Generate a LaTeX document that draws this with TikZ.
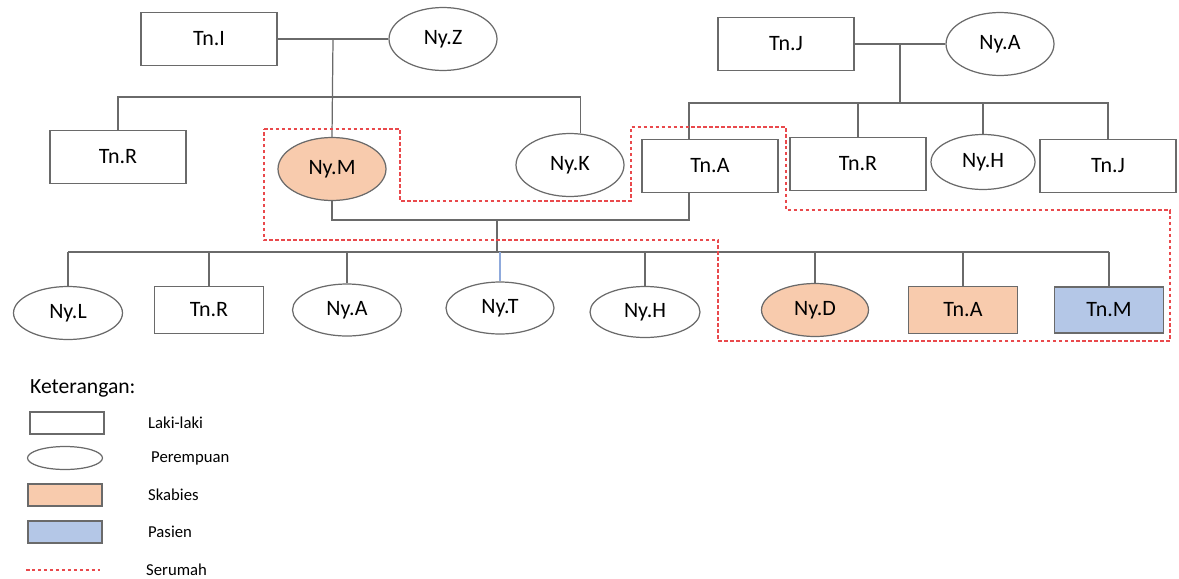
\documentclass[tikz,border=0pt]{standalone}
\usepackage{fontspec}
\setmainfont{Carlito}
\usetikzlibrary{positioning,calc,shapes.geometric}
\definecolor{skabies}{HTML}{F8CBAD}
\definecolor{pasien}{HTML}{B4C7E7}
\definecolor{garis}{HTML}{6A6A6A}
\definecolor{serumah}{HTML}{E9494C}
\definecolor{garisbiru}{HTML}{8FAADC}

\tikzset{
  laki/.style={rectangle, draw=garis, line width=0.7pt, fill=white, inner sep=0pt,
    minimum width=2.72cm, minimum height=1.06cm, font=\fontsize{12.5}{15}\selectfont},
  perempuan/.style={ellipse, draw=garis, line width=0.7pt, fill=white, inner sep=0pt,
    minimum width=2.16cm, minimum height=1.26cm, font=\fontsize{12.5}{15}\selectfont},
  link/.style={draw=garis, line width=0.7pt},
  rumah/.style={draw=serumah, line width=0.6pt, dash pattern=on 2pt off 1.4pt},
  ket/.style={anchor=west, font=\fontsize{9.5}{11}\selectfont},
}

\begin{document}
\begin{tikzpicture}[x=0.02cm, y=-0.02cm]
\useasboundingbox (0,0) rectangle (1179,578);

% generasi I
\node[laki] (tnI) at (209,39) {Tn.I};
\node[perempuan] (nyZ) at (443,39) {Ny.Z};
\node[laki] (tnJ1) at (786,44) {Tn.J};
\node[perempuan] (nyA1) at (1000,44) {Ny.A};

% generasi II
\node[laki] (tnR1) at (118,157) {Tn.R};
\node[perempuan, fill=skabies] (nyM) at (332,169) {Ny.M};
\node[perempuan] (nyK) at (570,165) {Ny.K};
\node[laki] (tnA1) at (710,166) {Tn.A};
\node[laki] (tnR2) at (858,164) {Tn.R};
\node[perempuan, minimum width=2.08cm, minimum height=1.1cm] (nyH1) at (983,162) {Ny.H};
\node[laki] (tnJ2) at (1108,166) {Tn.J};

% generasi III
\node[perempuan, minimum width=2.18cm, minimum height=1.06cm] (nyL) at (68,313) {Ny.L};
\node[laki, minimum width=2.18cm, minimum height=0.94cm] (tnR3) at (209,310) {Tn.R};
\node[perempuan, minimum width=2.18cm, minimum height=1.04cm] (nyA2) at (347,310) {Ny.A};
\node[perempuan, minimum width=2.16cm, minimum height=1.04cm] (nyT) at (500,308) {Ny.T};
\node[perempuan, minimum width=2.2cm, minimum height=1.02cm] (nyH2) at (645,312) {Ny.H};
\node[perempuan, minimum width=2.14cm, minimum height=1.06cm, fill=skabies] (nyD) at (815,310) {Ny.D};
\node[laki, minimum width=2.18cm, minimum height=0.94cm, fill=skabies] (tnA2) at (963,310) {Tn.A};
\node[laki, minimum width=2.18cm, minimum height=0.92cm, fill=pasien] (tnM) at (1109,310) {Tn.M};

% titik bantu
\coordinate (pI) at ($(tnI.east)!0.5!(nyZ.west)$);
\coordinate (pJ) at ($(tnJ1.east)!0.5!(nyA1.west)$);
\coordinate (s1) at (0,97);
\coordinate (s2) at (0,103);
\coordinate (aA) at (689,0);
\coordinate (m) at (497,220);
\coordinate (k) at (0,252);

% pasangan generasi I
\draw[link] (tnI.east) -- (nyZ.west);
\draw[link] (tnJ1.east) -- (nyA1.west);
\draw[link] (pI) -- (nyM.north);
\draw[link] (pJ) -- (pJ |- s2);

% saudara generasi II
\draw[link] (tnR1.north) -- (tnR1.north |- s1) -- (nyK.72 |- s1) -- (nyK.72);
\draw[link] (tnA1.north -| aA) -- (aA |- s2) -- (tnJ2.north |- s2) -- (tnJ2.north);
\draw[link] (tnR2.north |- s2) -- (tnR2.north);
\draw[link] (nyH1.north |- s2) -- (nyH1.north);

% pernikahan Ny.M dan Tn.A
\draw[link] (nyM.south) |- (m) -| (tnA1.south -| aA);
\draw[link] (m) -- (m |- k);

% anak generasi III
\draw[link] (nyL.north |- k) -- (tnM.north |- k);
\foreach \n in {nyL,tnR3,nyA2,nyH2,nyD,tnA2,tnM}
    \draw[link] (\n.north |- k) -- (\n.north);
\draw[draw=garisbiru, line width=0.7pt] (nyT.north |- k) -- (nyT.north);

% serumah
\draw[rumah] (264,129) -- (400,129) -- (400,201) -- (631,201) -- (631,127)
  -- (786,127) -- (786,210) -- (1170,210) -- (1170,341) -- (718,341)
  -- (718,240) -- (264,240) -- cycle;

% keterangan
\node[anchor=west, font=\fontsize{12.3}{14}\selectfont] (judul) at (24,388) {Keterangan:};
\node[laki, minimum width=1.48cm, minimum height=0.44cm] (kLaki) at (67,423) {};
\node[perempuan, minimum width=1.5cm, minimum height=0.46cm] (kPerempuan) at (65,458) {};
\node[laki, minimum width=1.48cm, minimum height=0.44cm, fill=skabies] (kSkabies) at (65,495) {};
\node[laki, minimum width=1.48cm, minimum height=0.44cm, fill=pasien] (kPasien) at (65,532) {};
\coordinate (kR1) at (26,570);
\coordinate (kR2) at (100,570);
\draw[rumah] (kR1) -- (kR2);
\node[ket] (tLaki) at (142,423) {Laki-laki};
\node[ket] (tPerempuan) at (145,458) {Perempuan};
\node[ket] (tSkabies) at (142,495) {Skabies};
\node[ket] (tPasien) at (142,532) {Pasien};
\node[ket] (tSerumah) at (140,570) {Serumah};
\end{tikzpicture}
\end{document}
